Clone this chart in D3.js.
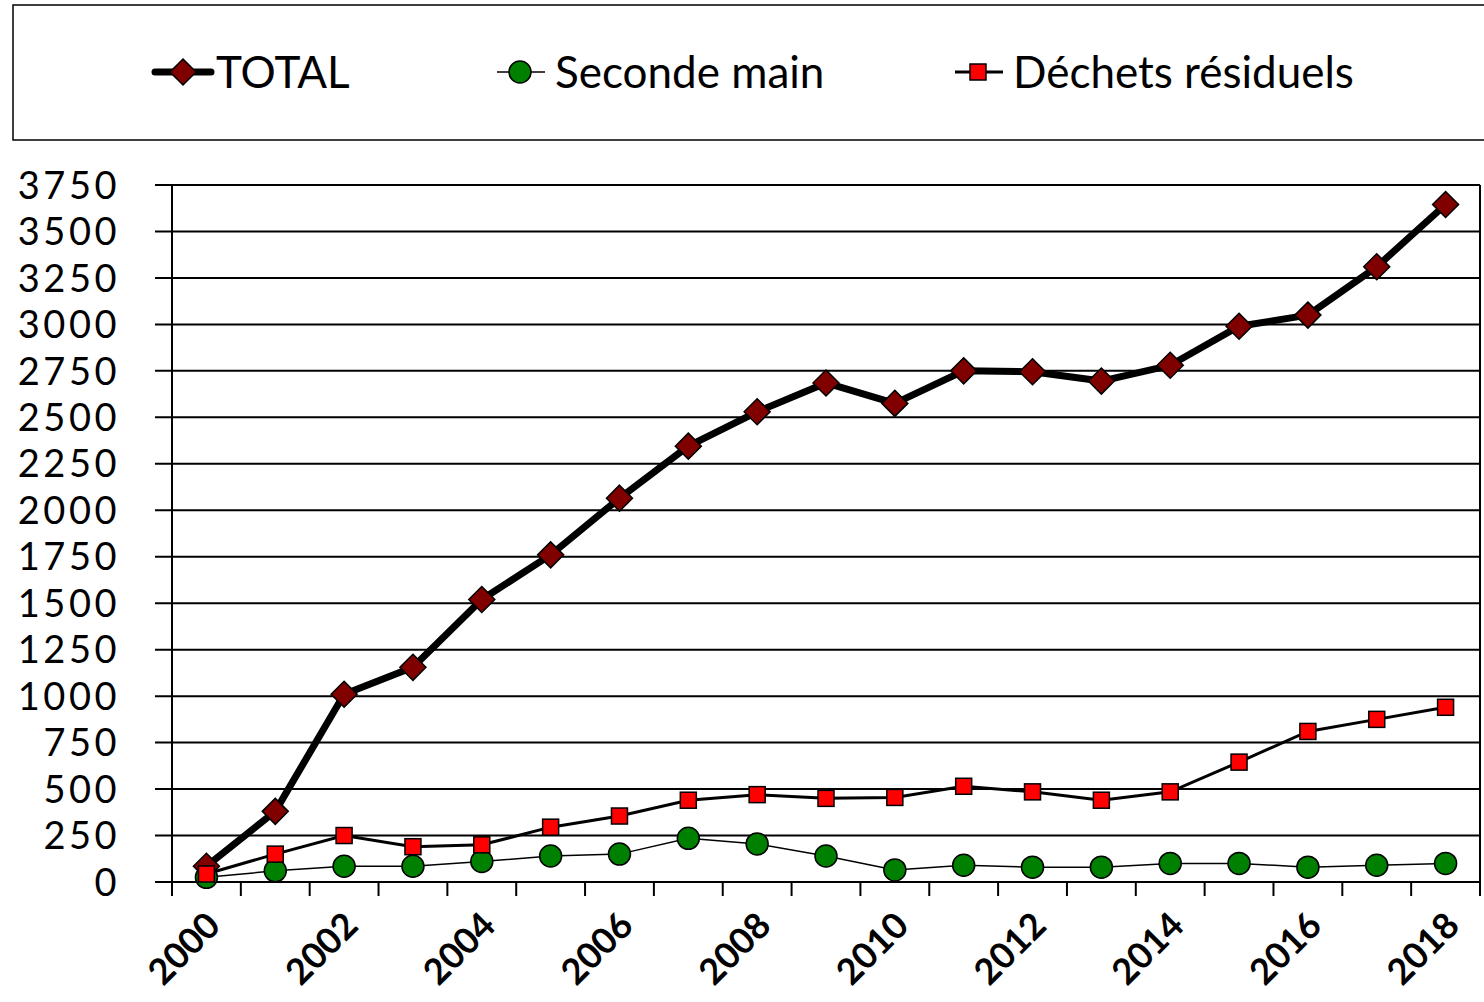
<!DOCTYPE html>
<html>
<head>
<meta charset="utf-8">
<script src="https://cdn.jsdelivr.net/npm/d3@7"></script>
<style>
  html, body { margin: 0; padding: 0; background: #fff; }
  svg { display: block; font-family: Lato, "DejaVu Sans", sans-serif; }
</style>
</head>
<body>
<svg id="chart" width="1484" height="1002"></svg>
<script>
const years = [2000,2001,2002,2003,2004,2005,2006,2007,2008,2009,2010,2011,2012,2013,2014,2015,2016,2017,2018];
const total = [85,380,1010,1155,1520,1760,2065,2345,2530,2685,2575,2750,2745,2695,2780,2990,3050,3310,3645];
const secondeMain = [25,60,85,85,110,140,150,235,205,140,65,90,80,80,100,100,80,90,100];
const dechets = [43,150,250,190,200,295,355,440,470,450,455,515,485,440,485,645,810,875,940];
const yTicks = [0,250,500,750,1000,1250,1500,1750,2000,2250,2500,2750,3000,3250,3500,3750];
const xLabels = [2000,2002,2004,2006,2008,2010,2012,2014,2016,2018];
const legendLabels = ["TOTAL", "Seconde main", "Déchets résiduels"];

const svg = d3.select("#chart");
const L = 172, R = 1480, T = 185, B = 882;

const x = d3.scaleBand().domain(years).range([L, R]).padding(0);
const y = d3.scaleLinear().domain([0, 3750]).range([B, T]);
const cx = d => x(d) + x.bandwidth() / 2;

// Legend box (right side runs past the picture edge)
svg.append("rect").attr("x", 13).attr("y", 5).attr("width", 1480).attr("height", 135)
  .attr("fill", "#fff").attr("stroke", "#000").attr("stroke-width", 1.5);

// Gridlines + y ticks
svg.append("g").selectAll("line").data(yTicks).join("line")
  .attr("x1", 155).attr("x2", R).attr("y1", d => y(d)).attr("y2", d => y(d))
  .attr("stroke", "#000").attr("stroke-width", 2);

// y labels
svg.append("g").selectAll("text").data(yTicks).join("text")
  .attr("x", 120).attr("y", d => y(d)).attr("dy", "0.36em")
  .attr("text-anchor", "end").attr("font-size", 38).attr("letter-spacing", 3.5).attr("fill", "#000")
  .text(d => d);

// Left & right axes
svg.append("line").attr("x1", L).attr("x2", L).attr("y1", T).attr("y2", B + 14)
  .attr("stroke", "#000").attr("stroke-width", 2);
svg.append("line").attr("x1", R).attr("x2", R).attr("y1", T).attr("y2", B + 14)
  .attr("stroke", "#000").attr("stroke-width", 2);

// x ticks at band boundaries
svg.append("g").selectAll("line").data(years.slice(1)).join("line")
  .attr("x1", d => x(d)).attr("x2", d => x(d)).attr("y1", B).attr("y2", B + 14)
  .attr("stroke", "#000").attr("stroke-width", 2);

// x labels
svg.append("g").selectAll("text").data(xLabels).join("text")
  .attr("transform", d => `translate(${cx(d) - 2},${B + 28}) rotate(-45)`)
  .attr("text-anchor", "end").attr("dy", "0.7em")
  .attr("font-size", 36).attr("font-weight", "bold").attr("fill", "#000")
  .text(d => d);

const line = d3.line().x((d, i) => cx(years[i])).y(d => y(d));

// Seconde main
svg.append("path").datum(secondeMain).attr("d", line)
  .attr("fill", "none").attr("stroke", "#000").attr("stroke-width", 1.5);
// Déchets
svg.append("path").datum(dechets).attr("d", line)
  .attr("fill", "none").attr("stroke", "#000").attr("stroke-width", 3);
// Total
svg.append("path").datum(total).attr("d", line)
  .attr("fill", "none").attr("stroke", "#000").attr("stroke-width", 7).attr("stroke-linejoin", "round");

const diamond = s => `M0,${-s} L${s},0 L0,${s} L${-s},0 Z`;

// Markers total
svg.append("g").selectAll("path").data(total).join("path")
  .attr("transform", (d, i) => `translate(${cx(years[i])},${y(d)})`)
  .attr("d", diamond(13)).attr("fill", "#800000").attr("stroke", "#000").attr("stroke-width", 1.5);
// Markers seconde
svg.append("g").selectAll("circle").data(secondeMain).join("circle")
  .attr("cx", (d, i) => cx(years[i])).attr("cy", d => y(d)).attr("r", 11)
  .attr("fill", "#008000").attr("stroke", "#000").attr("stroke-width", 1.5);
// Markers dechets
svg.append("g").selectAll("rect").data(dechets).join("rect")
  .attr("x", (d, i) => cx(years[i]) - 8).attr("y", d => y(d) - 8)
  .attr("width", 16).attr("height", 16)
  .attr("fill", "#ff0000").attr("stroke", "#000").attr("stroke-width", 1.5);

// Legend
const ly = 72;
const lg = svg.append("g");
// TOTAL
lg.append("line").attr("x1", 155).attr("x2", 211).attr("y1", ly).attr("y2", ly)
  .attr("stroke", "#000").attr("stroke-width", 7).attr("stroke-linecap", "round");
lg.append("path").attr("transform", `translate(183,${ly})`).attr("d", diamond(13))
  .attr("fill", "#800000").attr("stroke", "#000").attr("stroke-width", 1.5);
lg.append("text").attr("x", 216).attr("y", ly).attr("dy", "0.36em").attr("font-size", 44).text(legendLabels[0]);
// Seconde main
lg.append("line").attr("x1", 497).attr("x2", 545).attr("y1", ly).attr("y2", ly)
  .attr("stroke", "#000").attr("stroke-width", 1.5);
lg.append("circle").attr("cx", 520).attr("cy", ly).attr("r", 11)
  .attr("fill", "#008000").attr("stroke", "#000").attr("stroke-width", 1.5);
lg.append("text").attr("x", 555).attr("y", ly).attr("dy", "0.36em").attr("font-size", 44).text(legendLabels[1]);
// Dechets
lg.append("line").attr("x1", 955).attr("x2", 1003).attr("y1", ly).attr("y2", ly)
  .attr("stroke", "#000").attr("stroke-width", 3);
lg.append("rect").attr("x", 970).attr("y", ly - 8).attr("width", 16).attr("height", 16)
  .attr("fill", "#ff0000").attr("stroke", "#000").attr("stroke-width", 1.5);
lg.append("text").attr("x", 1013).attr("y", ly).attr("dy", "0.36em").attr("font-size", 44).text(legendLabels[2]);
</script>
</body>
</html>
